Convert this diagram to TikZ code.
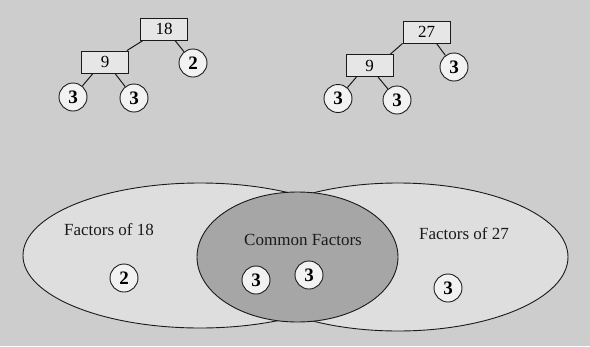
\documentclass[tikz,border=0pt]{standalone}
\usepackage{fontspec}
\setmainfont{Liberation Serif}
\definecolor{bgcol}{HTML}{CDCDCD}
\definecolor{ellfill}{HTML}{DEDEDE}
\definecolor{darkfill}{HTML}{A6A6A6}
\definecolor{circfill}{HTML}{F2F2F2}
\definecolor{boxfill}{HTML}{E6E6E6}
\definecolor{ink}{HTML}{1A1A1A}
\begin{document}
\begin{tikzpicture}[x=1pt,y=-1pt,
  numbox/.style={draw=ink, line width=0.9pt, fill=boxfill, minimum width=47pt, minimum height=22pt, inner sep=0pt, font=\fontsize{17}{17}\selectfont},
  numcirc/.style={draw=ink, circle, line width=0.9pt, fill=circfill, minimum size=28pt, inner sep=0pt, font=\fontsize{19}{19}\selectfont\bfseries},
  link/.style={draw=ink, line width=1pt},
  setline/.style={draw=ink, line width=0.9pt},
  setlabel/.style={font=\fontsize{17}{17}\selectfont, text=ink, inner sep=0pt}]
\fill[bgcol] (0,0) rectangle (590,346);
\useasboundingbox (0,0) rectangle (590,346);

% ---- factor tree of 18
\node[numbox] (b18) at (164,29) {18};
\node[numbox] (b9a) at (105,62) {9};
\node[numcirc] (c2a) at (193,63) {2};
\node[numcirc] (c3a) at (73,97) {3};
\node[numcirc] (c3b) at (134,98) {3};
\draw[link] ([xshift=3pt]b18.south west) -- ([xshift=-2pt]b9a.north east);
\draw[link] ([xshift=11pt]b18.south) -- (c2a);
\draw[link] ([xshift=-12pt]b9a.south) -- (c3a);
\draw[link] ([xshift=10pt]b9a.south) -- (c3b);

% ---- factor tree of 27
\node[numbox] (b27) at (426.5,32) {27};
\node[numbox] (b9b) at (369.5,65.5) {9};
\node[numcirc] (c3c) at (454,67) {3};
\node[numcirc] (c3d) at (338,98.5) {3};
\node[numcirc] (c3e) at (397,100) {3};
\draw[link] (b27.south west) -- ([xshift=-3pt]b9b.north east);
\draw[link] ([xshift=10pt]b27.south) -- (c3c);
\draw[link] ([xshift=-13pt]b9b.south) -- (c3d);
\draw[link] ([xshift=8.5pt]b9b.south) -- (c3e);

% ---- Venn diagram
\fill[ellfill] (200,255.5) ellipse [x radius=177, y radius=72.5];
\fill[ellfill] (398,257) ellipse [x radius=170, y radius=74];
\draw[setline] (200,255.5) ellipse [x radius=177, y radius=72.5];
\draw[setline] (398,257) ellipse [x radius=170, y radius=74];
\draw[setline, fill=darkfill] (297.5,257) ellipse [x radius=100.5, y radius=65];

\node[setlabel] (l18) at (109,230) {Factors of 18};
\node[setlabel] (lcom) at (303,240) {Common Factors};
\node[setlabel] (l27) at (464,234) {Factors of 27};

\node[numcirc] (v2) at (124,278) {2};
\node[numcirc] (v3a) at (256,280) {3};
\node[numcirc] (v3b) at (309,275) {3};
\node[numcirc] (v3c) at (448,288) {3};
\end{tikzpicture}
\end{document}
